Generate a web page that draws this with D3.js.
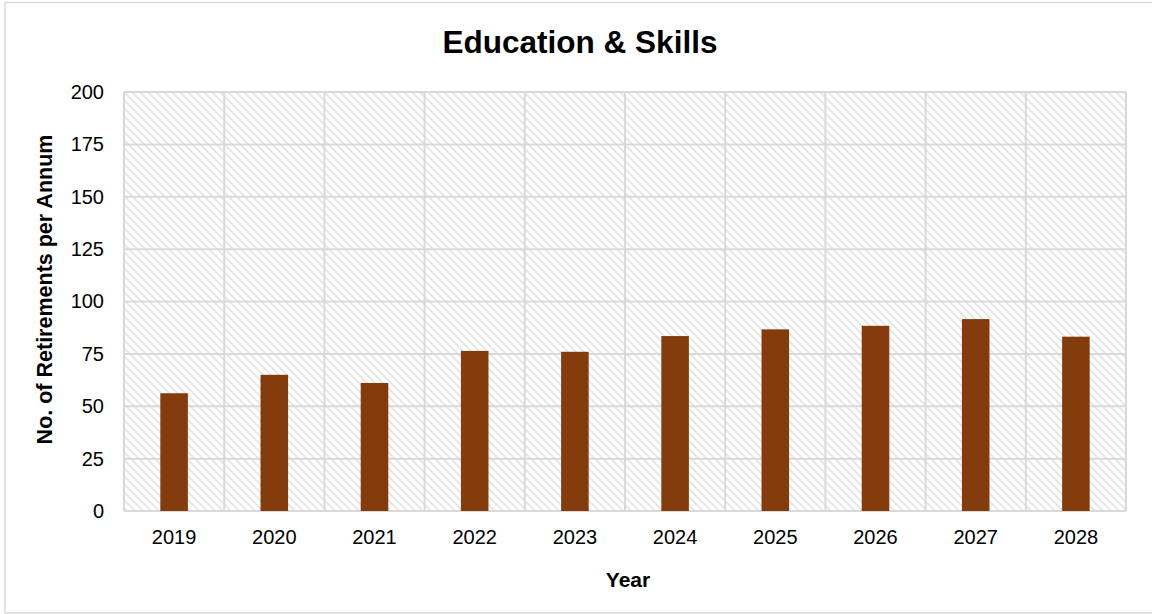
<!DOCTYPE html>
<html>
<head>
<meta charset="utf-8">
<script src="https://cdn.jsdelivr.net/npm/d3@7"></script>
<style>
  html, body { margin: 0; padding: 0; background: #fff; }
  svg { display: block; }
</style>
</head>
<body>
<svg id="chart" width="1152" height="614"></svg>
<script>
// Retirements per year for the Education & Skills sector
const years = ["2019", "2020", "2021", "2022", "2023", "2024", "2025", "2026", "2027", "2028"];
const retirements = [56.2, 65, 61.1, 76.4, 76, 83.5, 86.7, 88.4, 91.6, 83.2];
const yTicks = [0, 25, 50, 75, 100, 125, 150, 175, 200];

const chartTitle = "Education & Skills";
const xTitle = "Year";
const yTitle = "No. of Retirements per Annum";

const W = 1152, H = 614;
const plot = { left: 124, right: 1126, top: 92, bottom: 511 };
const font = "'Liberation Sans', Arial, sans-serif";
const gridColor = "#d9d9d9";

const svg = d3.select("#chart");

// hatched plot-area fill
const defs = svg.append("defs");
const pat = defs.append("pattern")
  .attr("id", "hatch")
  .attr("patternUnits", "userSpaceOnUse")
  .attr("width", 8).attr("height", 8);
pat.append("rect").attr("width", 8).attr("height", 8).attr("fill", "#fff");
pat.append("path")
  .attr("d", "M-2,-2 L10,10 M-2,6 L2,10 M6,-2 L10,2")
  .attr("stroke", "#e4e4e4")
  .attr("stroke-width", 1.8);

// outer chart border
svg.append("rect")
  .attr("x", 5).attr("y", 2.5)
  .attr("width", W + 10).attr("height", H - 3.5)
  .attr("fill", "#fff")
  .attr("stroke", gridColor)
  .attr("stroke-width", 1.5);

const x = d3.scaleBand()
  .domain(years)
  .range([plot.left, plot.right])
  .paddingInner(0).paddingOuter(0);

const y = d3.scaleLinear()
  .domain([0, 200])
  .range([plot.bottom, plot.top]);

svg.append("rect")
  .attr("x", plot.left).attr("y", plot.top)
  .attr("width", plot.right - plot.left)
  .attr("height", plot.bottom - plot.top)
  .attr("fill", "url(#hatch)");

// horizontal gridlines
svg.append("g")
  .selectAll("line")
  .data(yTicks)
  .join("line")
  .attr("x1", plot.left).attr("x2", plot.right)
  .attr("y1", d => y(d)).attr("y2", d => y(d))
  .attr("stroke", gridColor)
  .attr("stroke-width", 2);

// vertical gridlines at category boundaries
const bounds = years.map(d => x(d)).concat([plot.right]);
svg.append("g")
  .selectAll("line")
  .data(bounds)
  .join("line")
  .attr("x1", d => d).attr("x2", d => d)
  .attr("y1", plot.top).attr("y2", plot.bottom)
  .attr("stroke", gridColor)
  .attr("stroke-width", 2);

// bars
const barW = x.bandwidth() * 0.275;
svg.append("g")
  .selectAll("rect")
  .data(years.map((yr, i) => ({ yr, v: retirements[i] })))
  .join("rect")
  .attr("x", d => x(d.yr) + x.bandwidth() / 2 - barW / 2)
  .attr("y", d => y(d.v))
  .attr("width", barW)
  .attr("height", d => y(0) - y(d.v))
  .attr("fill", "#843c0c");

// y axis
const yAxis = svg.append("g")
  .attr("transform", `translate(${plot.left},0)`)
  .call(d3.axisLeft(y).tickValues(yTicks).tickSize(0).tickPadding(20));
yAxis.select(".domain").remove();
yAxis.selectAll("text")
  .attr("font-family", font)
  .attr("font-size", 20)
  .attr("fill", "#000");

// x axis
const xAxis = svg.append("g")
  .attr("transform", `translate(0,${plot.bottom})`)
  .call(d3.axisBottom(x).tickSize(0).tickPadding(19));
xAxis.select(".domain").remove();
xAxis.selectAll("text")
  .attr("font-family", font)
  .attr("font-size", 20)
  .attr("fill", "#000");

// titles
svg.append("text")
  .attr("x", 580)
  .attr("y", 53)
  .attr("text-anchor", "middle")
  .attr("font-family", font)
  .attr("font-weight", "bold")
  .attr("font-size", 31.5)
  .attr("fill", "#000")
  .text(chartTitle);

svg.append("text")
  .attr("x", (plot.left + plot.right) / 2 + 3)
  .attr("y", 587)
  .attr("text-anchor", "middle")
  .attr("font-family", font)
  .attr("font-weight", "bold")
  .attr("font-size", 21)
  .attr("fill", "#000")
  .text(xTitle);

svg.append("text")
  .attr("transform", `translate(52,${(plot.top + plot.bottom) / 2 - 12}) rotate(-90)`)
  .attr("text-anchor", "middle")
  .attr("font-family", font)
  .attr("font-weight", "bold")
  .attr("font-size", 21.5)
  .attr("fill", "#000")
  .text(yTitle);
</script>
</body>
</html>
